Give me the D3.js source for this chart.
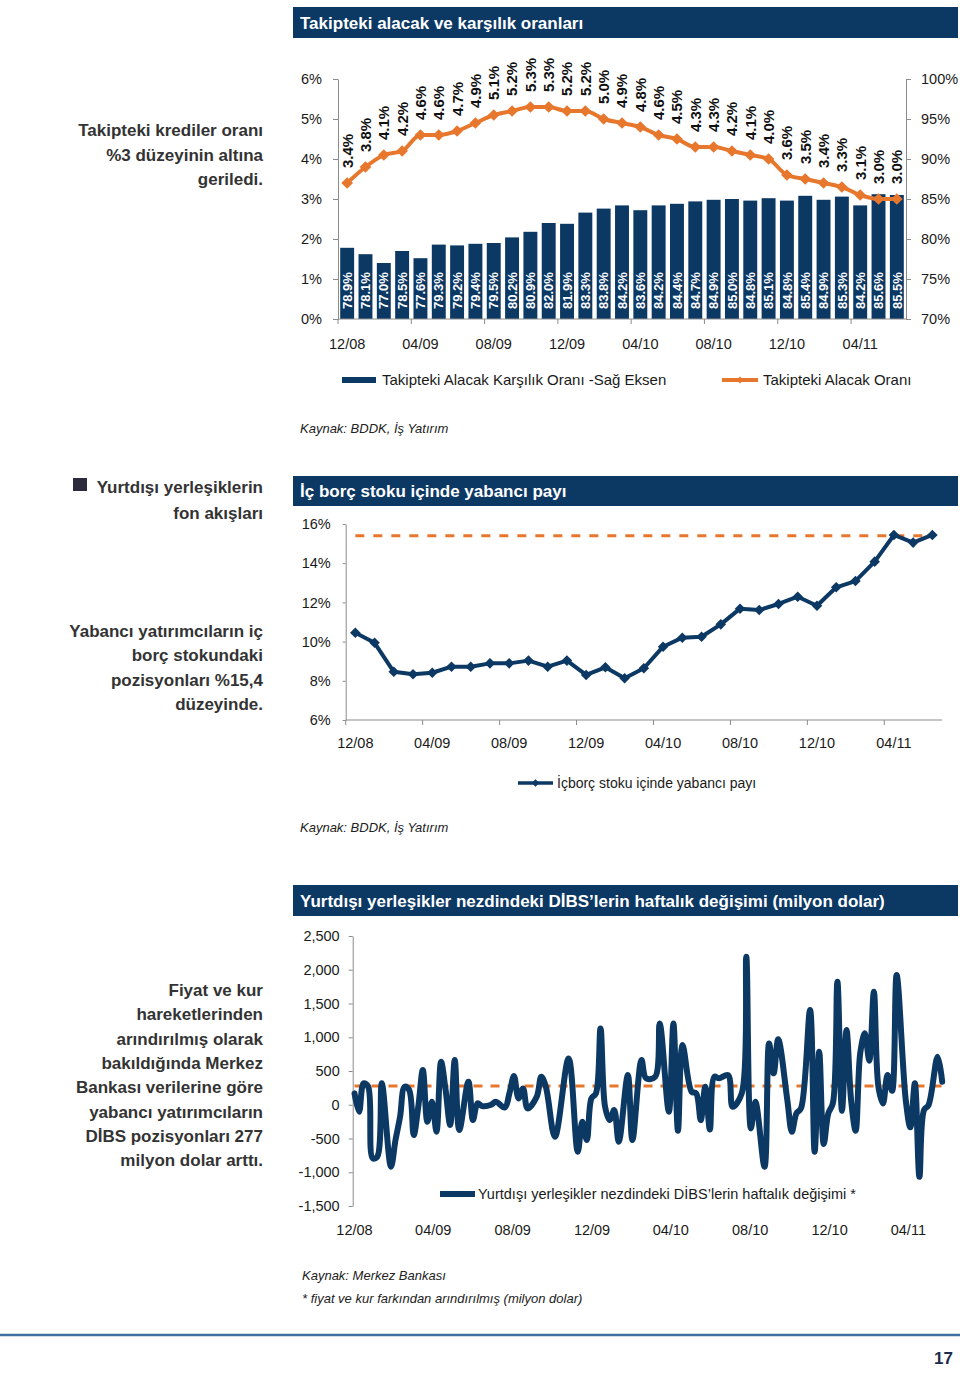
<!DOCTYPE html>
<html><head><meta charset="utf-8">
<script src="https://cdn.jsdelivr.net/npm/d3@7"></script>
<style>body{margin:0;background:#fff}svg{display:block}text{font-family:"Liberation Sans",Arial,sans-serif}</style>
</head><body><svg id="c" width="960" height="1378"></svg>
<script>
// ---------- DATA ----------
const months = ["12/08","01/09","02/09","03/09","04/09","05/09","06/09","07/09","08/09","09/09","10/09","11/09",
  "12/09","01/10","02/10","03/10","04/10","05/10","06/10","07/10","08/10","09/10","10/10","11/10",
  "12/10","01/11","02/11","03/11","04/11","05/11","06/11"];
const xTickLabels = ["12/08","04/09","08/09","12/09","04/10","08/10","12/10","04/11"];
const provisionRatio = [78.9,78.1,77.0,78.5,77.6,79.3,79.2,79.4,79.5,80.2,80.9,82.0,81.9,83.3,83.8,84.2,83.6,84.2,84.4,84.7,84.9,85.0,84.8,85.1,84.8,85.4,84.9,85.3,84.2,85.6,85.5];
const nplRatio = [3.4,3.8,4.1,4.2,4.6,4.6,4.7,4.9,5.1,5.2,5.3,5.3,5.2,5.2,5.0,4.9,4.8,4.6,4.5,4.3,4.3,4.2,4.1,4.0,3.6,3.5,3.4,3.3,3.1,3.0,3.0];
const leftTicks1 = [0,1,2,3,4,5,6];
const rightTicks1 = [70,75,80,85,90,95,100];

const foreignShare = [10.45,9.94,8.46,8.33,8.41,8.72,8.72,8.89,8.89,9.03,8.72,9.03,8.30,8.69,8.13,8.64,9.74,10.2,10.25,10.88,11.68,11.61,11.92,12.29,11.83,12.77,13.09,14.08,15.44,15.05,15.44];
const foreignShareLevel = 15.4;
const yTicks2 = [6,8,10,12,14,16];

const dibsStart = [2008,11,1];
const dibsWeek = [0,1,2,3,4,5,6,8,9,10,11,12,13,14,15,16,17,18,19,20,21,22,23,25,26,27,28,30,31,33,
  34,35,36,37,38,40,41,42,44,47,49,50,51,52,53,54,55,56,57,58,60,61,63,64,66,67,69,70,71,72,
  74,75,76,77,78,79,80,82,83,85,86,87,88,90,91,92,93,95,96,97,98,100,101,102,103,104,105,106,107,108,
  109,110,111,112,113,114,115,116,117,118,119,121,122,123,124,125,126,128,129];
const dibsValue = [169,-104,317,267,-794,-770,317,-918,-523,-178,267,218,-449,-30,514,-252,44,-400,637,218,
  -301,662,-375,341,-227,20,-20,0,44,-40,169,425,94,242,-54,119,415,267,-474,687,
  -696,-252,-523,94,169,1131,-30,-227,-79,-548,440,-523,662,391,415,1205,-104,1205,-385,884,
  193,169,-227,267,-365,415,391,440,-30,169,2193,-350,44,-918,909,465,969,70,-400,-128,
  -54,1403,-696,785,-582,-128,20,1822,-89,1107,70,-385,761,1058,652,1674,267,20,440,207,
  1921,70,-335,317,-1067,-79,-5,711,341];
const dibsLevel = 277;
const yTicks3 = [-1500,-1000,-500,0,500,1000,1500,2000,2500];

// ---------- STYLE ----------
const NAVY = "#0c3864", ORANGE = "#e8772e", AXIS = "#8c8c8c", TXT = "#1a1a1a";
const svg = d3.select("#c");
svg.append("rect").attr("width",960).attr("height",1378).attr("fill","#fff");

function titleBar(y,h,text){
  svg.append("rect").attr("x",293).attr("y",y).attr("width",665).attr("height",h).attr("fill",NAVY);
  svg.append("text").attr("x",300).attr("y",y+h/2).attr("dy","0.36em").attr("fill","#fff")
    .attr("font-weight","bold").attr("font-size",17).text(text);
}
function sideText(lines,x,y0,lh){
  const t = svg.append("text").attr("text-anchor","end").attr("font-weight","bold").attr("font-size",17).attr("fill","#333");
  lines.forEach((l,i)=>t.append("tspan").attr("x",x).attr("y",y0+i*lh).text(l));
}
function styleAxis(g){
  g.attr("font-family",null);
  g.select(".domain").attr("stroke",AXIS);
  g.selectAll(".tick line").attr("stroke",AXIS);
  g.selectAll(".tick text").attr("fill",TXT).attr("font-size",14.5);
}
function note(x,y,text){
  svg.append("text").attr("x",x).attr("y",y).attr("font-style","italic").attr("font-size",13).attr("fill","#222").text(text);
}
const diamond = s => d3.symbol(d3.symbolSquare, s)();

// ---------- CHART 1 ----------
titleBar(7,31,"Takipteki alacak ve karşılık oranları");
sideText(["Takipteki krediler oranı","%3 düzeyinin altına","geriledi."],263,136,24.5);

const x1 = d3.scaleBand().domain(months).range([338,906]).paddingInner(0.24).paddingOuter(0.12);
const yL1 = d3.scaleLinear().domain([0,6]).range([319,79]);
const yR1 = d3.scaleLinear().domain([70,100]).range([319,79]);
const g1 = svg.append("g");
g1.selectAll("rect.bar").data(provisionRatio).join("rect").attr("class","bar")
  .attr("x",(d,i)=>x1(months[i])).attr("y",d=>yR1(d))
  .attr("width",x1.bandwidth()).attr("height",d=>yR1(70)-yR1(d)).attr("fill",NAVY);
g1.selectAll("text.bl").data(provisionRatio).join("text").attr("class","bl")
  .attr("transform",(d,i)=>`translate(${x1(months[i])+x1.bandwidth()/2},${yR1(70)-10}) rotate(-90)`)
  .attr("dy","0.36em").attr("fill","#fff").attr("font-weight","bold").attr("font-size",13)
  .text(d=>d.toFixed(1)+"%");

const cx1 = (d,i)=>x1(months[i])+x1.bandwidth()/2;
g1.append("path").datum(nplRatio)
  .attr("d",d3.line().x(cx1).y(d=>yL1(d)).curve(d3.curveMonotoneX))
  .attr("fill","none").attr("stroke",ORANGE).attr("stroke-width",4);
g1.selectAll("path.mk").data(nplRatio).join("path").attr("class","mk")
  .attr("d",diamond(68)).attr("fill",ORANGE)
  .attr("transform",(d,i)=>`translate(${cx1(d,i)},${yL1(d)}) rotate(45)`);
g1.selectAll("text.ll").data(nplRatio).join("text").attr("class","ll")
  .attr("transform",(d,i)=>`translate(${cx1(d,i)},${yL1(d)-15}) rotate(-90)`)
  .attr("dy","0.36em").attr("fill","#111").attr("font-weight","bold").attr("font-size",15)
  .text(d=>d.toFixed(1)+"%");

const axL1 = svg.append("g").attr("transform","translate(338,0)")
  .call(d3.axisLeft(yL1).tickValues(leftTicks1).tickFormat(d=>d+"%").tickSize(5).tickPadding(11).tickSizeOuter(0));
styleAxis(axL1);
const axR1 = svg.append("g").attr("transform","translate(906,0)")
  .call(d3.axisRight(yR1).tickValues(rightTicks1).tickFormat(d=>d+"%").tickSize(5).tickPadding(10).tickSizeOuter(0));
styleAxis(axR1);
svg.append("line").attr("x1",338).attr("x2",906).attr("y1",319).attr("y2",319).attr("stroke",AXIS);
xTickLabels.forEach(m=>{
  const bx = x1(m) - x1.step()*x1.paddingInner()/2;
  svg.append("line").attr("x1",bx).attr("x2",bx).attr("y1",319).attr("y2",324).attr("stroke",AXIS);
  svg.append("text").attr("x",x1(m)+x1.bandwidth()/2).attr("y",349).attr("text-anchor","middle")
    .attr("font-size",14.5).attr("fill",TXT).text(m);
});
svg.append("rect").attr("x",342).attr("y",377).attr("width",34).attr("height",6).attr("fill",NAVY);
svg.append("text").attr("x",382).attr("y",380).attr("dy","0.36em").attr("font-size",15).attr("fill",TXT)
  .text("Takipteki Alacak Karşılık Oranı -Sağ Eksen");
svg.append("line").attr("x1",722).attr("x2",758).attr("y1",380).attr("y2",380).attr("stroke",ORANGE).attr("stroke-width",4);
svg.append("path").attr("d",diamond(24)).attr("fill",ORANGE).attr("transform","translate(740,380) rotate(45)");
svg.append("text").attr("x",763).attr("y",380).attr("dy","0.36em").attr("font-size",15).attr("fill",TXT)
  .text("Takipteki Alacak Oranı");
note(300,433,"Kaynak: BDDK, İş Yatırım");

// ---------- CHART 2 ----------
titleBar(476,30,"İç borç stoku içinde yabancı payı");
svg.append("rect").attr("x",73).attr("y",478).attr("width",14).attr("height",13).attr("fill","#2b2b3d");
sideText(["Yurtdışı yerleşiklerin","fon akışları"],263,493,26);
sideText(["Yabancı yatırımcıların iç","borç stokundaki","pozisyonları %15,4","düzeyinde."],263,637,24.3);

const x2 = d3.scaleBand().domain(months).range([345.7,942]);
const y2 = d3.scaleLinear().domain([6,16]).range([720,524]);
const cx2 = (d,i)=>x2(months[i])+x2.bandwidth()/2;
const axL2 = svg.append("g").attr("transform","translate(345.7,0)")
  .call(d3.axisLeft(y2).tickValues(yTicks2).tickFormat(d=>d+"%").tickSize(3).tickPadding(12).tickSizeOuter(0));
styleAxis(axL2);
svg.append("line").attr("x1",345.7).attr("x2",942).attr("y1",720).attr("y2",720).attr("stroke",AXIS);
xTickLabels.forEach(m=>{
  const bx = x2(m);
  svg.append("line").attr("x1",bx).attr("x2",bx).attr("y1",720).attr("y2",725).attr("stroke",AXIS);
  svg.append("text").attr("x",x2(m)+x2.bandwidth()/2).attr("y",748).attr("text-anchor","middle")
    .attr("font-size",14.5).attr("fill",TXT).text(m);
});
svg.append("line").attr("x1",cx2(0,0)).attr("x2",cx2(0,months.length-1))
  .attr("y1",y2(foreignShareLevel)).attr("y2",y2(foreignShareLevel))
  .attr("stroke",ORANGE).attr("stroke-width",3).attr("stroke-dasharray","9,9");
svg.append("path").datum(foreignShare)
  .attr("d",d3.line().x(cx2).y(d=>y2(d)))
  .attr("fill","none").attr("stroke",NAVY).attr("stroke-width",4).attr("stroke-linejoin","round");
svg.selectAll("path.mk2").data(foreignShare).join("path").attr("class","mk2")
  .attr("d",diamond(56)).attr("fill",NAVY)
  .attr("transform",(d,i)=>`translate(${cx2(d,i)},${y2(d)}) rotate(45)`);
svg.append("line").attr("x1",518).attr("x2",553).attr("y1",783).attr("y2",783).attr("stroke",NAVY).attr("stroke-width",3.5);
svg.append("path").attr("d",diamond(30)).attr("fill",NAVY).attr("transform","translate(535.5,783) rotate(45)");
svg.append("text").attr("x",557).attr("y",783).attr("dy","0.36em").attr("font-size",14).attr("fill",TXT)
  .text("İçborç stoku içinde yabancı payı");
note(300,832,"Kaynak: BDDK, İş Yatırım");

// ---------- CHART 3 ----------
titleBar(885,31,"Yurtdışı yerleşikler nezdindeki DİBS’lerin haftalık değişimi (milyon dolar)");
sideText(["Fiyat ve kur","hareketlerinden","arındırılmış olarak","bakıldığında Merkez","Bankası verilerine göre",
  "yabancı yatırımcıların","DİBS pozisyonları 277","milyon dolar arttı."],263,996,24.3);

const x3 = d3.scaleTime().domain([new Date(2008,11,1), new Date(2011,4,25)]).range([354.5,943.5]);
const y3 = d3.scaleLinear().domain([-1500,2500]).range([1206,936]);
const fmt = d3.format(",");
const axL3 = svg.append("g").attr("transform","translate(352.7,0)")
  .call(d3.axisLeft(y3).tickValues(yTicks3).tickFormat(d=>fmt(d).replace("\u2212","-")).tickSize(4).tickPadding(9).tickSizeOuter(0));
styleAxis(axL3);
const parseM = d3.timeParse("%m/%y");
xTickLabels.forEach(m=>{
  svg.append("text").attr("x",x3(parseM(m))).attr("y",1235).attr("text-anchor","middle")
    .attr("font-size",14.5).attr("fill",TXT).text(m);
});
const dibsData = dibsWeek.map((w,i)=>({date:new Date(dibsStart[0],dibsStart[1],dibsStart[2]+7*w), v:dibsValue[i]}));
svg.append("line").attr("x1",x3(dibsData[0].date)).attr("x2",x3(dibsData[dibsData.length-1].date)+3)
  .attr("y1",y3(dibsLevel)).attr("y2",y3(dibsLevel))
  .attr("stroke",ORANGE).attr("stroke-width",3).attr("stroke-dasharray","9,8");
svg.append("path").datum(dibsData)
  .attr("d",d3.line().x(d=>x3(d.date)).y(d=>y3(d.v)).curve(d3.curveCatmullRom.alpha(0.5)))
  .attr("fill","none").attr("stroke",NAVY).attr("stroke-width",6).attr("stroke-linejoin","round").attr("stroke-linecap","round");
svg.append("rect").attr("x",440).attr("y",1191).attr("width",35).attr("height",6).attr("fill",NAVY);
svg.append("text").attr("x",478).attr("y",1194).attr("dy","0.36em").attr("font-size",14.5).attr("fill",TXT)
  .text("Yurtdışı yerleşikler nezdindeki DİBS’lerin haftalık değişimi *");
note(302,1280,"Kaynak: Merkez Bankası");
note(302,1303,"* fiyat ve kur farkından arındırılmış (milyon dolar)");

// ---------- FOOTER ----------
svg.append("line").attr("x1",0).attr("x2",960).attr("y1",1335).attr("y2",1335).attr("stroke","#3f6f9f").attr("stroke-width",2.5);
svg.append("text").attr("x",953).attr("y",1364).attr("text-anchor","end").attr("font-weight","bold")
  .attr("font-size",17).attr("fill","#1c2c4c").text("17");
</script></body></html>
